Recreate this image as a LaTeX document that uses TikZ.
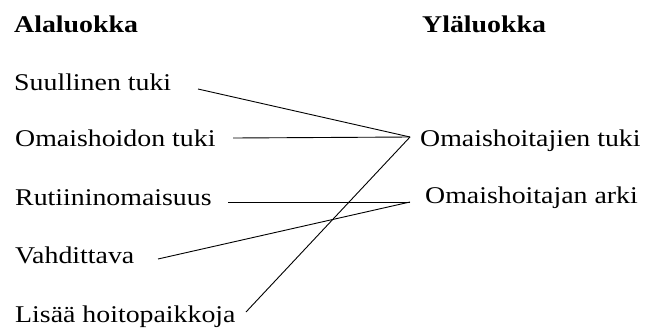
\documentclass[tikz,border=0pt]{standalone}
\usepackage{fontspec}
\usepackage{graphicx}
\setmainfont{Liberation Serif}
\newcommand{\widetxt}[1]{\scalebox{1.16}[1]{#1}}
\tikzset{
  lbl/.style={anchor=base west, inner sep=0pt, font=\fontsize{24}{28}\selectfont},
  head/.style={lbl, font=\fontsize{24}{28}\selectfont\bfseries},
  conn/.style={draw=black, line width=0.9pt},
}
\begin{document}
\begin{tikzpicture}[x=1pt, y=-1pt]
\useasboundingbox (0,0) rectangle (645,327);
% headings
\node[head] (hA) at (14,32) {\widetxt{Alaluokka}};
\node[head] (hY) at (422,32) {\widetxt{Yläluokka}};
% left column
\node[lbl] (l1) at (14,90) {\widetxt{Suullinen tuki}};
\node[lbl] (l2) at (15,146) {\widetxt{Omaishoidon tuki}};
\node[lbl] (l3) at (15,205) {\widetxt{Rutiininomaisuus}};
\node[lbl] (l4) at (15,263) {\widetxt{Vahdittava}};
\node[lbl] (l5) at (15,322) {\widetxt{Lisää hoitopaikkoja}};
% right column
\node[lbl] (r1) at (420,146) {\widetxt{Omaishoitajien tuki}};
\node[lbl] (r2) at (425,203) {\widetxt{Omaishoitajan arki}};
% connector ends
\coordinate (a1) at (198,89);
\coordinate (a2) at (233,138);
\coordinate (a3) at (228,202);
\coordinate (a4) at (158,259);
\coordinate (a5) at (246,312);
\coordinate (b1) at (410,137);
\coordinate (b2) at (410,202);
% connectors
\draw[conn] (a1) -- (b1);
\draw[conn] (a2) -- (b1);
\draw[conn] (a5) -- (b1);
\draw[conn] (a3) -- (b2);
\draw[conn] (a4) -- (b2);
\end{tikzpicture}
\end{document}
